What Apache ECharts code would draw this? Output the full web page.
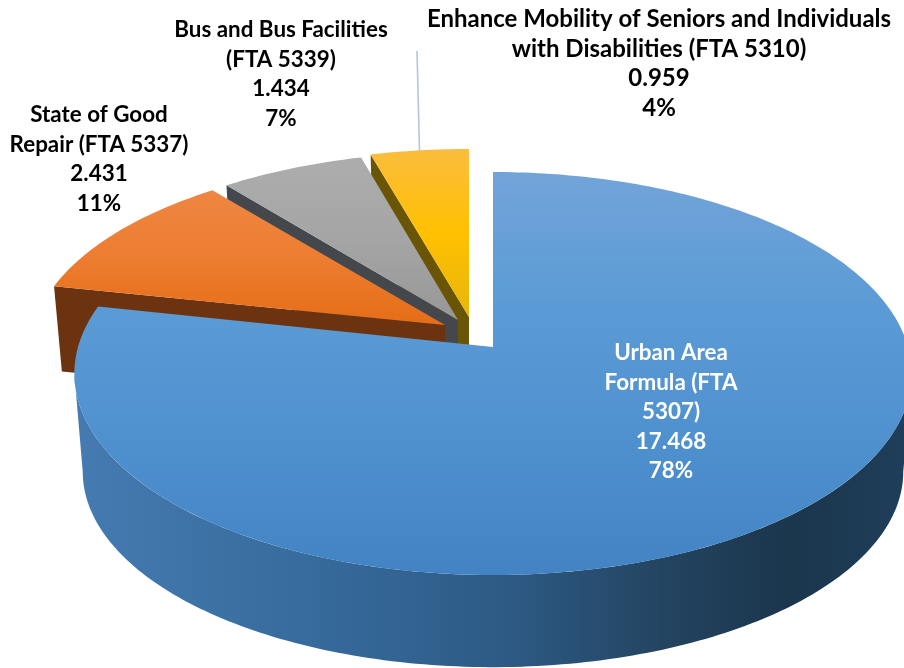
<!DOCTYPE html>
<html>
<head>
<meta charset="utf-8">
<style>html,body{margin:0;padding:0;background:#fff}#c{width:904px;height:668px}</style>
<script src="https://cdn.jsdelivr.net/npm/echarts@6/dist/echarts.min.js"></script>
</head>
<body>
<div id="c"></div>
<script>
const categories = ['Urban Area\nFormula (FTA\n5307)', 'State of Good\nRepair (FTA 5337)', 'Bus and Bus Facilities\n(FTA 5339)', 'Enhance Mobility of Seniors and Individuals\nwith Disabilities (FTA 5310)'];
const values = [17.468, 2.431, 1.434, 0.959];
const percentLabels = ['78%', '11%', '7%', '4%'];

// presentation
const apexes = [[493, 347], [445, 325], [458, 320], [469, 317]];
const backScaleX = [1, 0.99, 0.985, 1];
const backScaleY = [1, 0.96, 0.96, 0.96];
const depths = [99, 84, 84, 84];
const labelAnchors = [[671, 412], [99, 159.5], [281, 74.5], [659, 64]];
const labelSizes = [22.4, 22.4, 22.4, 24];
const labelColors = ['#ffffff', '#000000', '#000000', '#000000'];
const KX = 415, KY = 198, P = 0.1315;
const stops = (y1, y2, list) => ({
  type: 'linear', x: 0, y: y1, x2: 0, y2: y2, global: true,
  colorStops: list.map((c, i) => ({ offset: i / (list.length - 1), color: c }))
});
const topFills = [
  stops(172, 575, ['#72a4d9', '#5b9bd5', '#4f90cf', '#4383c3']),
  stops(188, 325, ['#ee8743', '#ed7d31', '#e56d17']),
  stops(156, 320, ['#adadad', '#a5a5a5', '#979797']),
  stops(149, 320, ['#fbbd3e', '#ffc000', '#e6b50c'])
];
const wallFills = ['#1c3850', '#6b3310', '#44484c', '#6a5406'];
const sideFill = {
  type: 'linear', x: 75, y: 0, x2: 904, y2: 0, global: true,
  colorStops: [
    { offset: 0, color: '#457bb1' }, { offset: 0.3, color: '#366a9b' },
    { offset: 0.52, color: '#2d5a85' }, { offset: 0.72, color: '#23435f' },
    { offset: 0.86, color: '#1b364d' }, { offset: 1, color: '#1f3e5a' }
  ]
};

const total = values.reduce((a, b) => a + b, 0);
const startAngles = [];
values.reduce((acc, v, i) => { startAngles[i] = acc; return acc + v / total * 360; }, 0);

function rim(i, deg, lower) {
  const r = deg * Math.PI / 180, u = Math.sin(r), v = -Math.cos(r);
  const d = 1 - P * v;
  const [ax, ay] = apexes[i];
  let x = KX * u / d * backScaleX[i], y = KY * v / d * backScaleY[i];
  if (lower) {
    x *= 0.98; y *= 0.97;
    return [ax + x, ay + depths[i] + y];
  }
  return [ax + x, ay + y];
}
function arc(i, a0, a1, lower) {
  const pts = [], n = Math.max(2, Math.ceil(Math.abs(a1 - a0)));
  for (let k = 0; k <= n; k++) pts.push(rim(i, a0 + (a1 - a0) * k / n, lower));
  return pts;
}

function renderItem(params, api) {
  const i = params.dataIndex;
  const sweep = api.value(0) / total * 360;
  const a0 = startAngles[i], a1 = a0 + sweep;
  const [ax, ay] = apexes[i];
  const base = (values.length - i) * 10;
  const children = [];
  if (i === 0) {
    const side = arc(i, 97.6, 262.4, false).concat(arc(i, 262.4, 97.6, true));
    children.push({ type: 'polygon', z2: base, shape: { points: side }, style: { fill: sideFill } });
  } else {
    const p = rim(i, a0, false), q = rim(i, a0, true);
    children.push({ type: 'polygon', z2: base, shape: { points: [[ax, ay], p, q, [ax, ay + depths[i]]] }, style: { fill: wallFills[i] } });
  }
  children.push({
    type: 'polygon', z2: base + 1,
    shape: { points: [[ax, ay]].concat(arc(i, a0, a1, false)) },
    style: { fill: topFills[i] }
  });
  children.push({
    type: 'text', z2: 200,
    style: {
      x: labelAnchors[i][0], y: labelAnchors[i][1],
      text: categories[i] + '\n' + api.value(0).toFixed(3) + '\n' + percentLabels[i],
      align: 'center', verticalAlign: 'middle',
      fontFamily: 'Lato', fontWeight: 'bold', fontSize: labelSizes[i], lineHeight: 29.5,
      fill: labelColors[i]
    }
  });
  return { type: 'group', children };
}

const chart = echarts.init(document.getElementById('c'), null, { renderer: 'canvas' });
chart.setOption({
  animation: false,
  backgroundColor: '#ffffff',
  series: [{
    type: 'custom',
    coordinateSystem: 'none',
    renderItem,
    clip: false,
    silent: true,
    data: values.map((v, i) => ({ name: categories[i], value: [v] }))
  }],
  graphic: [{
    type: 'line', z: 5,
    shape: { x1: 417, y1: 51, x2: 419.5, y2: 151 },
    style: { stroke: '#b4c6dc', lineWidth: 1.6 }
  }]
});
</script>
</body>
</html>
